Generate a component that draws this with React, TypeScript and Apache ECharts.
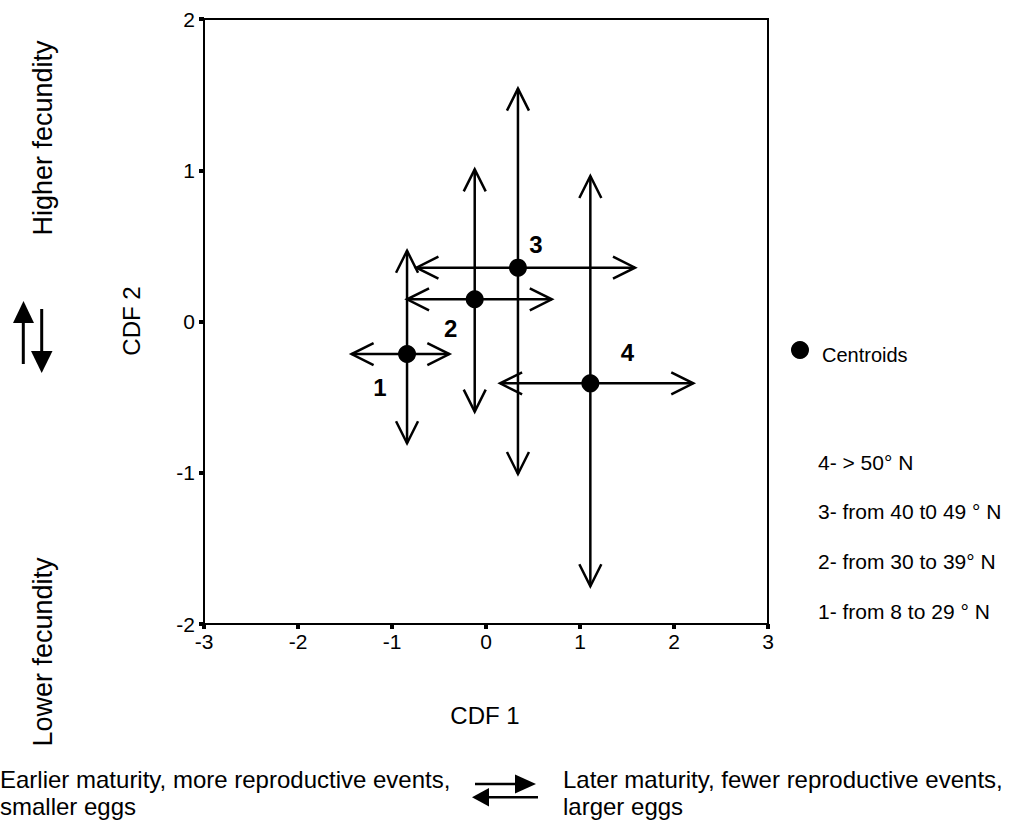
import React, { useEffect, useRef } from 'react';
import * as echarts from 'echarts';

// ---- data ----
const groups = ['1', '2', '3', '4'];
const centroidX = [-0.84, -0.12, 0.34, 1.11];
const centroidY = [-0.215, 0.147, 0.356, -0.409];
const rangeXLow = [-1.43, -0.84, -0.74, 0.15];
const rangeXHigh = [-0.39, 0.7, 1.585, 2.205];
const rangeYLow = [-0.805, -0.596, -1.008, -1.75];
const rangeYHigh = [0.468, 1.006, 1.54, 0.962];
const legendEntries = ['4- > 50° N', '3- from 40 t0 49 ° N', '2- from 30 to 39° N', '1- from 8 to 29 ° N'];
const centroidLegend = 'Centroids';
const xName = 'CDF 1';
const yName = 'CDF 2';
const topNote = 'Higher fecundity';
const bottomNote = 'Lower fecundity';
const leftNote = ['Earlier maturity, more reproductive events,', 'smaller eggs'];
const rightNote = ['Later maturity, fewer reproductive events,', 'larger eggs'];

// ---- styling ----
const FONT = '"Liberation Sans", Arial, sans-serif';
const labelOffsets = [[-27, 33], [-24, 29], [18, -23], [37, -31]];
const HEAD_LEN = 22;
const HEAD_W = 11;
const LW = 2.5;

export default function App() {
  const ref = useRef<HTMLDivElement>(null);
  useEffect(() => {
    document.body.style.margin = '0';
    const chart = echarts.init(ref.current!, null, { renderer: 'svg' });
    const lineStyle = { stroke: '#000', lineWidth: LW, fill: null as any };
    const head = (tip: number[], dx: number, dy: number) => {
      const nx = -dy, ny = dx;
      return {
        type: 'polyline',
        shape: {
          points: [
            [tip[0] - HEAD_LEN * dx + HEAD_W * nx, tip[1] - HEAD_LEN * dy + HEAD_W * ny],
            [tip[0], tip[1]],
            [tip[0] - HEAD_LEN * dx - HEAD_W * nx, tip[1] - HEAD_LEN * dy - HEAD_W * ny],
          ],
        },
        style: lineStyle,
      };
    };
    const arrowData = groups.map((g, i) => [centroidX[i], centroidY[i], rangeXLow[i], rangeXHigh[i], rangeYLow[i], rangeYHigh[i]]);
    const txt = (text: string, x: number, y: number, size: number, extra: any = {}) => ({
      type: 'text',
      x, y,
      style: { text, fill: '#000', font: `${size}px ${FONT}`, textAlign: 'left', textVerticalAlign: 'middle', ...extra.style },
      ...(extra.props || {}),
    });
    const graphics: any[] = [
      txt(xName, 485, 715, 24, { style: { textAlign: 'center' } }),
      txt(yName, 131, 321, 24, { style: { textAlign: 'center' }, props: { rotation: Math.PI / 2 } }),
      txt(topNote, 43, 138, 27, { style: { textAlign: 'center' }, props: { rotation: Math.PI / 2 } }),
      txt(bottomNote, 43, 652, 27, { style: { textAlign: 'center' }, props: { rotation: Math.PI / 2 } }),
      txt(leftNote[0], 0, 779, 24),
      txt(leftNote[1], 0, 806, 24),
      txt(rightNote[0], 563, 779, 24),
      txt(rightNote[1], 563, 806, 24),
      { type: 'circle', shape: { cx: 800, cy: 350, r: 9 }, style: { fill: '#000' } },
      txt(centroidLegend, 822, 355, 20),
      ...legendEntries.map((t, i) => txt(t, 818, 462 + i * 49.7, 21)),
      // vertical double arrow icon
      { type: 'line', shape: { x1: 23.3, y1: 364, x2: 23.3, y2: 320 }, style: { stroke: '#000', lineWidth: 3 } },
      { type: 'polygon', shape: { points: [[13, 323], [23.5, 301], [34, 323]] }, style: { fill: '#000' } },
      { type: 'line', shape: { x1: 41.7, y1: 309, x2: 41.7, y2: 354 }, style: { stroke: '#000', lineWidth: 3 } },
      { type: 'polygon', shape: { points: [[31, 351], [41.7, 373], [52.5, 351]] }, style: { fill: '#000' } },
      // horizontal double arrow icon
      { type: 'line', shape: { x1: 475, y1: 784, x2: 517, y2: 784 }, style: { stroke: '#000', lineWidth: 2.5 } },
      { type: 'polygon', shape: { points: [[515, 774.5], [536, 784], [515, 793.5]] }, style: { fill: '#000' } },
      { type: 'line', shape: { x1: 486, y1: 797.3, x2: 538, y2: 797.3 }, style: { stroke: '#000', lineWidth: 2.5 } },
      { type: 'polygon', shape: { points: [[489, 788], [472, 797.3], [489, 806.5]] }, style: { fill: '#000' } },
    ];
    const axisCommon = {
      type: 'value',
      min: -3, max: 3, interval: 1,
      axisLine: { show: true, onZero: false, lineStyle: { color: '#000', width: 2 } },
      axisTick: { show: true, inside: false, length: 5, lineStyle: { color: '#000', width: 4 } },
      splitLine: { show: false },
      axisLabel: { color: '#000', fontSize: 21, fontFamily: FONT },
    };
    chart.setOption({
      animation: false,
      backgroundColor: '#fff',
      grid: { left: 204, top: 19, width: 564, height: 605, show: true, borderColor: '#000', borderWidth: 2, backgroundColor: 'transparent' },
      xAxis: { ...axisCommon, axisLabel: { ...axisCommon.axisLabel, margin: 7 } },
      yAxis: { ...axisCommon, min: -2, max: 2, axisLabel: { ...axisCommon.axisLabel, margin: 9 } },
      graphic: graphics,
      series: [
        {
          type: 'custom',
          data: arrowData,
          encode: { x: 0, y: 1 },
          z: 2,
          renderItem: (params: any, api: any) => {
            const cx = api.value(0), cy = api.value(1);
            const L = api.coord([api.value(2), cy]);
            const R = api.coord([api.value(3), cy]);
            const B = api.coord([cx, api.value(4)]);
            const T = api.coord([cx, api.value(5)]);
            return {
              type: 'group',
              children: [
                { type: 'line', shape: { x1: L[0], y1: L[1], x2: R[0], y2: R[1] }, style: lineStyle },
                { type: 'line', shape: { x1: T[0], y1: T[1], x2: B[0], y2: B[1] }, style: lineStyle },
                head(L, -1, 0), head(R, 1, 0), head(T, 0, -1), head(B, 0, 1),
              ],
            };
          },
        },
        {
          type: 'scatter',
          z: 3,
          symbol: 'circle',
          symbolSize: 18,
          itemStyle: { color: '#000', opacity: 1 },
          data: groups.map((g, i) => ({
            value: [centroidX[i], centroidY[i]],
            name: g,
            label: {
              show: true,
              position: 'inside',
              offset: labelOffsets[i],
              formatter: g,
              color: '#000',
              fontSize: 24,
              fontWeight: 'bold',
              fontFamily: FONT,
            },
          })),
        },
      ],
    });
    return () => chart.dispose();
  }, []);
  return <div ref={ref} style={{ width: 1012, height: 825 }} />;
}
